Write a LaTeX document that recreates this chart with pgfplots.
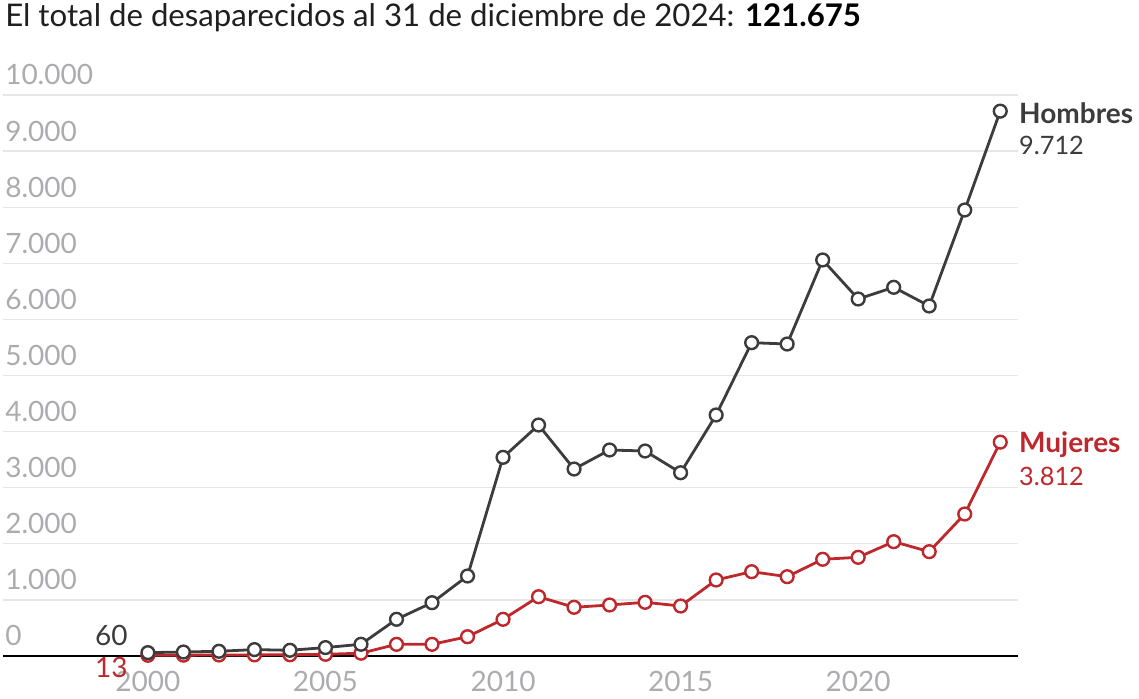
\documentclass[border=0pt]{standalone}
\usepackage{fontspec}
\setmainfont{Lato}
\usepackage{pgfplots}
\usepackage{pgfplotstable}
\pgfplotsset{compat=1.18}

\definecolor{hom}{RGB}{60,60,60}
\definecolor{muj}{RGB}{190,40,45}
\definecolor{ticktxt}{RGB}{172,172,176}
\definecolor{gridc}{RGB}{230,230,230}

% desaparecidos por año y sexo
\pgfplotstableread{
year hombres mujeres
2000 60 13
2001 71 15
2002 84 18
2003 114 20
2004 102 22
2005 150 30
2006 209 50
2007 654 208
2008 950 208
2009 1426 344
2010 3541 654
2011 4117 1057
2012 3333 868
2013 3672 909
2014 3654 957
2015 3267 891
2016 4296 1355
2017 5585 1503
2018 5561 1414
2019 7059 1724
2020 6364 1759
2021 6572 2038
2022 6239 1860
2023 7950 2531
2024 9712 3812
}\datos

\begin{document}
\begin{tikzpicture}[x=1pt,y=1pt]
\useasboundingbox (-2.25,-32.25) rectangle (852,492);
\begin{axis}[
  scale only axis,
  width=761.25pt, height=420.75pt,
  xmin=1995.92, xmax=2024.5,
  ymin=0, ymax=10000,
  scaled ticks=false,
  axis x line*=bottom, axis y line*=left,
  y axis line style={draw=none},
  x axis line style={black, line width=0.8pt, -},
  major tick length=0pt,
  xtick={2000,2005,2010,2015,2020},
  ytick={0,1000,...,10000},
  ymajorgrids,
  grid style={gridc, line width=1pt},
  /pgf/number format/assume math mode=true,
  ticklabel style={font=\fontsize{21}{21}\selectfont, text=ticktxt},
  x tick label style={/pgf/number format/1000 sep={}, anchor=base, inner sep=0pt, yshift=-27pt},
  y tick label style={/pgf/number format/1000 sep={.}, anchor=base west, inner sep=0pt, xshift=1.5pt, yshift=7.5pt},
  clip=false,
]
\addplot[muj, line width=2.1pt, mark=*, mark size=4.8pt,
  mark options={fill=white, line width=1.8pt}] table[x=year, y=mujeres] {\datos};
\addplot[hom, line width=2.1pt, mark=*, mark size=4.8pt,
  mark options={fill=white, line width=1.8pt}] table[x=year, y=hombres] {\datos};

\node[anchor=base west, inner sep=0pt, font=\fontsize{23.4}{23.4}\selectfont, text=black!88]
  at (rel axis cs:0,1) [xshift=1.5pt, yshift=51pt]
  {El total de desaparecidos al 31 de diciembre de 2024: \textbf{\color{black}121.675}};

\node[anchor=west, inner sep=0pt, font=\bfseries\fontsize{21}{21}\selectfont, text=hom]
  at (axis cs:2024,9712) [xshift=14pt, yshift=-1.5pt] {Hombres};
\node[anchor=west, inner sep=0pt, font=\fontsize{19}{19}\selectfont, text=hom]
  at (axis cs:2024,9712) [xshift=14pt, yshift=-26pt] {9.712};
\node[anchor=west, inner sep=0pt, font=\bfseries\fontsize{21}{21}\selectfont, text=muj]
  at (axis cs:2024,3812) [xshift=14pt, yshift=-1.5pt] {Mujeres};
\node[anchor=west, inner sep=0pt, font=\fontsize{19}{19}\selectfont, text=muj]
  at (axis cs:2024,3812) [xshift=14pt, yshift=-26pt] {3.812};

\node[anchor=east, inner sep=0pt, font=\fontsize{21}{21}\selectfont, text=hom]
  at (axis cs:2000,60) [xshift=-15pt, yshift=12.75pt] {60};
\node[anchor=east, inner sep=0pt, font=\fontsize{21}{21}\selectfont, text=muj]
  at (axis cs:2000,13) [xshift=-15pt, yshift=-9pt] {13};
\end{axis}
\end{tikzpicture}
\end{document}
